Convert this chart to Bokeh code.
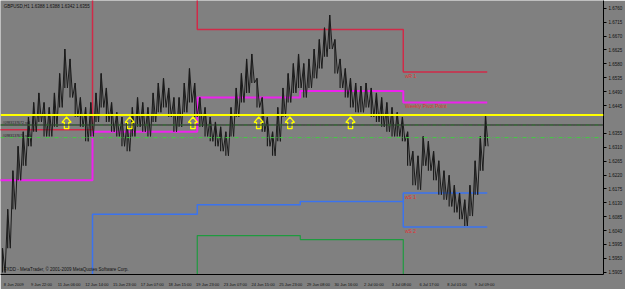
from bokeh.plotting import figure
from bokeh.models import FixedTicker, PrintfTickFormatter, Range1d, Span
from bokeh.core.properties import value
from bokeh.embed import file_html
from bokeh.resources import INLINE

# ---- data -------------------------------------------------------------
bars = list(range(0, 559, 6))  # H1 bar index, one column per 6 bars
highs = [1.5983, 1.6109, 1.6234, 1.6313, 1.6360, 1.6408, 1.6455, 1.6486, 1.6455, 1.6439,
         1.6486, 1.6549, 1.6628, 1.6596, 1.6518, 1.6471, 1.6439, 1.6455, 1.6486, 1.6549,
         1.6502, 1.6455, 1.6423, 1.6408, 1.6392, 1.6439, 1.6471, 1.6455, 1.6439, 1.6486,
         1.6518, 1.6533, 1.6502, 1.6471, 1.6471, 1.6518, 1.6565, 1.6518, 1.6471, 1.6439,
         1.6408, 1.6392, 1.6376, 1.6360, 1.6439, 1.6502, 1.6549, 1.6596, 1.6612, 1.6533,
         1.6471, 1.6408, 1.6360, 1.6439, 1.6502, 1.6549, 1.6581, 1.6612, 1.6581, 1.6596,
         1.6628, 1.6659, 1.6697, 1.6738, 1.6659, 1.6596, 1.6565, 1.6533, 1.6518, 1.6508,
         1.6518, 1.6502, 1.6486, 1.6471, 1.6455, 1.6439, 1.6423, 1.6408, 1.6360, 1.6297,
         1.6282, 1.6345, 1.6329, 1.6297, 1.6266, 1.6234, 1.6219, 1.6187, 1.6162, 1.6140,
         1.6187, 1.6266, 1.6345, 1.6414]
lows = [1.5904, 1.5983, 1.6109, 1.6203, 1.6250, 1.6313, 1.6360, 1.6392, 1.6345, 1.6345,
        1.6376, 1.6439, 1.6502, 1.6471, 1.6408, 1.6376, 1.6329, 1.6345, 1.6392, 1.6439,
        1.6392, 1.6360, 1.6345, 1.6313, 1.6297, 1.6345, 1.6376, 1.6360, 1.6345, 1.6392,
        1.6423, 1.6439, 1.6408, 1.6360, 1.6376, 1.6423, 1.6455, 1.6408, 1.6376, 1.6345,
        1.6329, 1.6313, 1.6297, 1.6282, 1.6345, 1.6408, 1.6455, 1.6486, 1.6518, 1.6439,
        1.6360, 1.6313, 1.6282, 1.6329, 1.6408, 1.6455, 1.6486, 1.6502, 1.6471, 1.6502,
        1.6533, 1.6565, 1.6603, 1.6628, 1.6549, 1.6502, 1.6471, 1.6439, 1.6423, 1.6423,
        1.6439, 1.6408, 1.6392, 1.6376, 1.6360, 1.6345, 1.6345, 1.6329, 1.6250, 1.6187,
        1.6172, 1.6250, 1.6234, 1.6203, 1.6156, 1.6140, 1.6118, 1.6099, 1.6077, 1.6055,
        1.6087, 1.6156, 1.6234, 1.6313]

week_edges = [-4, 104, 225, 344, 463, 560]
r1_levels = [1.6367, 1.6820, 1.6691, 1.6691, 1.6554]
pivot_levels = [1.6203, 1.6360, 1.6471, 1.6492, 1.6455]
s1_levels = [1.5840, 1.6093, 1.6124, 1.6134, 1.6162]
s3_levels = [1.5840, 1.5840, 1.6024, 1.6011, 1.5840]
ws2_level = 1.6052

hline_level = 1.6414
bid_level = 1.6382
order_levels = [1.6382, 1.6341]
order_texts = ["#0983137672 sell", "#0983137673 sell"]

arrow_bars = [74, 147, 220, 296, 332, 402]
arrow_tips = [1.6408, 1.6408, 1.6408, 1.6408, 1.6408, 1.6408]

x_tick_bars = [0, 32, 64, 96, 128, 160, 192, 224, 256, 288, 320, 352, 384, 416, 448, 480, 512, 544]
x_tick_labels = ["8 Jun 2009", "9 Jun 22:00", "11 Jun 06:00", "12 Jun 14:00", "15 Jun 23:00",
                 "17 Jun 07:00", "18 Jun 15:00", "19 Jun 23:00", "23 Jun 07:00", "24 Jun 15:00",
                 "25 Jun 23:00", "29 Jun 08:00", "30 Jun 16:00", "2 Jul 00:00", "3 Jul 08:00",
                 "6 Jul 17:00", "8 Jul 01:00", "9 Jul 09:00"]
y_ticks = [1.6760, 1.6715, 1.6670, 1.6625, 1.6580, 1.6535, 1.6490, 1.6445, 1.6355, 1.6310,
           1.6265, 1.6220, 1.6175, 1.6130, 1.6085, 1.6040, 1.5995, 1.5950, 1.5905]

header_text = "GBPUSD,H1  1.6388 1.6388 1.6342 1.6355"
footer_text = "FXDD - MetaTrader, \u00a9 2001-2009 MetaQuotes Software Corp."

# ---- styling constants --------------------------------------------------
BG = "#808080"
FONT = "Liberation Sans"
PX_X = 0.8656        # pixels per bar
PX_Y = 0.00031469    # price per pixel

p = figure(width=625, height=289, output_backend="svg", toolbar_location=None,
           y_axis_location="right", x_range=Range1d(-2.31, 694.3),
           y_range=Range1d(1.58978, 1.67852),
           min_border_left=0, min_border_top=0, min_border_right=22, min_border_bottom=7)
p.background_fill_color = BG
p.border_fill_color = BG
p.outline_line_color = None
p.grid.visible = False

# axes
xa = p.xaxis[0]
label_shift = 13
xa.ticker = FixedTicker(ticks=[b + label_shift for b in x_tick_bars])
xa.major_label_overrides = {b + label_shift: t for b, t in zip(x_tick_bars, x_tick_labels)}
xa.major_label_text_font_size = "4px"
xa.major_label_text_font = FONT
xa.major_label_text_color = "#111111"
xa.major_label_standoff = 1
xa.major_tick_line_color = None
xa.minor_tick_line_color = None
xa.axis_line_color = "#000000"

ya = p.yaxis[0]
ya.ticker = FixedTicker(ticks=y_ticks)
ya.formatter = PrintfTickFormatter(format="%.4f")
ya.major_label_text_font_size = "4.5px"
ya.major_label_text_font = FONT
ya.major_label_text_color = "#111111"
ya.major_label_standoff = 2
ya.major_tick_out = 3
ya.major_tick_in = 0
ya.major_tick_line_color = "#000000"
ya.minor_tick_line_color = None
ya.axis_line_color = "#000000"


def step_path(levels):
    xs, ys = [], []
    for i, lv in enumerate(levels):
        xs += [week_edges[i], week_edges[i + 1]]
        ys += [lv, lv]
    return xs, ys


# pivot lines
xs, ys = step_path(s3_levels)
p.line(xs, ys, line_color="#1f9a3f", line_width=1.2)
xs, ys = step_path(s1_levels)
p.line(xs, ys, line_color="#3b73ee", line_width=1.5)
p.line([week_edges[4], week_edges[4], week_edges[5]], [s1_levels[3], ws2_level, ws2_level],
       line_color="#3b73ee", line_width=1.5)
xs, ys = step_path(pivot_levels)
p.line(xs, ys, line_color="#ee22ee", line_width=2)
xs, ys = step_path(r1_levels)
p.line(xs, ys, line_color="#d02a48", line_width=1.5)

# order lines
for lv in order_levels:
    p.add_layout(Span(location=lv, dimension="width", line_color="#3fcf3f",
                      line_width=1, line_dash="4 2 1 2"))
p.text(x=[0, 0], y=order_levels, text=order_texts, text_font=value(FONT),
       text_font_size=value("3.5px"), text_color="#222222", text_baseline="bottom")

# price bars (zigzag through column highs/lows)
zx, zy = [], []
for b, h, l in zip(bars, highs, lows):
    zx += [b, b + 3]
    zy += [h, l]
p.segment(x0=bars, y0=highs, x1=bars, y1=lows, line_color="#1c1c1c", line_width=1.2)
p.line(zx, zy, line_color="#1c1c1c", line_width=1.0)

# bid line and yellow horizontal line
p.add_layout(Span(location=bid_level, dimension="width", line_color="#262626", line_width=1))
p.add_layout(Span(location=hline_level, dimension="width", line_color="#ffff00", line_width=2))

# arrows
shape = [(0, 0), (4.6, 5.5), (2.2, 5.5), (2.2, 12), (-2.2, 12), (-2.2, 5.5), (-4.6, 5.5)]
axs, ays = [], []
for b, t in zip(arrow_bars, arrow_tips):
    axs.append([b + dx / PX_X for dx, dy in shape])
    ays.append([t - dy * PX_Y for dx, dy in shape])
p.patches(axs, ays, fill_color=None, line_color="#ffff00", line_width=1.3)

# level labels
lab_x = week_edges[4] + 2
p.text(x=[lab_x] * 4, y=[r1_levels[4], pivot_levels[4], s1_levels[4], ws2_level],
       text=["wR 1", "Weekly Pivot Point", "wS 1", "wS 2"],
       text_font=value(FONT), text_font_size=value("5px"), text_color="#e23030",
       text_baseline="top", y_offset=1)

# header / footer
p.text(x=[1.5], y=[1.6775], text=[header_text], text_font=value(FONT),
       text_font_size=value("4.5px"), text_color="#111111", text_baseline="top")
p.text(x=[1.5], y=[1.5923], text=[footer_text], text_font=value(FONT),
       text_font_size=value("4.5px"), text_color="#111111", text_baseline="top")

open("out.html", "w").write(file_html(p, INLINE))
